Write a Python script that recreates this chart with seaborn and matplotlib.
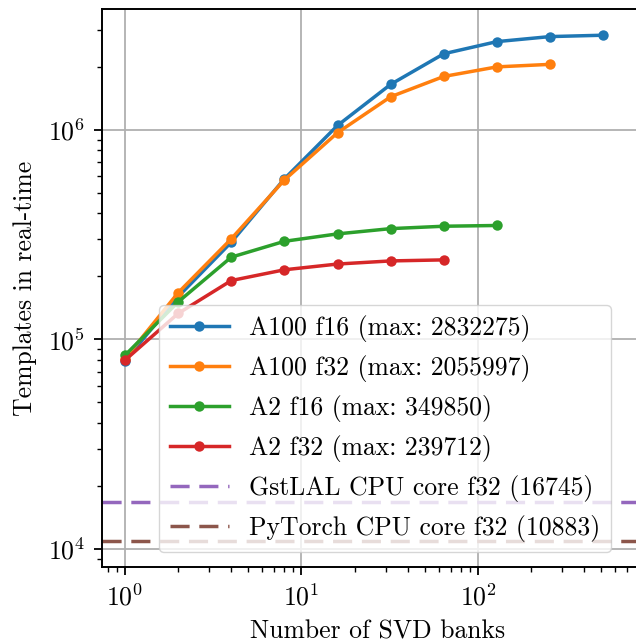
import pandas as pd
import matplotlib.pyplot as plt
import seaborn as sns
import numpy as np

plt.rcParams['font.family'] = 'cmr10'
plt.rcParams['mathtext.fontset'] = 'cm'
plt.rcParams['axes.formatter.use_mathtext'] = True
plt.rcParams['font.size'] = 18.5
plt.rcParams['axes.unicode_minus'] = False

banks = [1, 2, 4, 8, 16, 32, 64, 128, 256, 512]

a100_f16 = [79000, 160000, 291000, 584000, 1050000, 1650000, 2310000, 2640000, 2790000, 2832275]
a100_f32 = [81000, 167000, 302000, 577000, 970000, 1440000, 1800000, 2000000, 2055997]
a2_f16 = [84000, 151000, 247000, 294000, 319000, 338000, 347000, 349850]
a2_f32 = [79600, 133000, 191000, 215000, 229000, 237000, 239712]

gstlal_cpu = 16745
pytorch_cpu = 10883

series = [
    ('A100 f16', a100_f16, '#1f77b4'),
    ('A100 f32', a100_f32, '#ff7f0e'),
    ('A2 f16', a2_f16, '#2ca02c'),
    ('A2 f32', a2_f32, '#d62728'),
]

fig = plt.figure(figsize=(6.36, 6.44), dpi=100)
ax = fig.add_axes([0.1604, 0.1196, 0.8675, 0.8665])

for name, vals, color in series:
    df = pd.DataFrame({'banks': banks[:len(vals)], 'templates': vals})
    sns.lineplot(data=df, x='banks', y='templates', ax=ax, color=color,
                 marker='o', markersize=7.5, markeredgewidth=0, linewidth=2.5,
                 label=f'{name} (max: {max(vals)})')

ax.axhline(gstlal_cpu, color='#9467bd', linestyle=(0, (5.5, 2.8)), linewidth=2.5,
           label=f'GstLAL CPU core f32 ({gstlal_cpu})')
ax.axhline(pytorch_cpu, color='#8c564b', linestyle=(0, (5.5, 2.8)), linewidth=2.5,
           label=f'PyTorch CPU core f32 ({pytorch_cpu})')

ax.set_xscale('log')
ax.set_yscale('log')
ax.set_xlim(0.741, 990)
ax.set_ylim(8.2e3, 3.78e6)
ax.grid(True, which='major', color='#b0b0b0', linewidth=1.3)
ax.set_axisbelow(True)
ax.tick_params(which='major', length=6, width=1.3, pad=6)
ax.tick_params(which='minor', length=3.5, width=1.0)
for s in ax.spines.values():
    s.set_linewidth(1.4)

ax.set_xlabel('Number of SVD banks', labelpad=7)
ax.set_ylabel('Templates in real-time', labelpad=8)
ax.legend(loc='lower right', bbox_to_anchor=(0.922, 0.027), borderaxespad=0,
          handlelength=2.3, fontsize=18.5)

plt.savefig('out.png', dpi=100)
plt.close()
